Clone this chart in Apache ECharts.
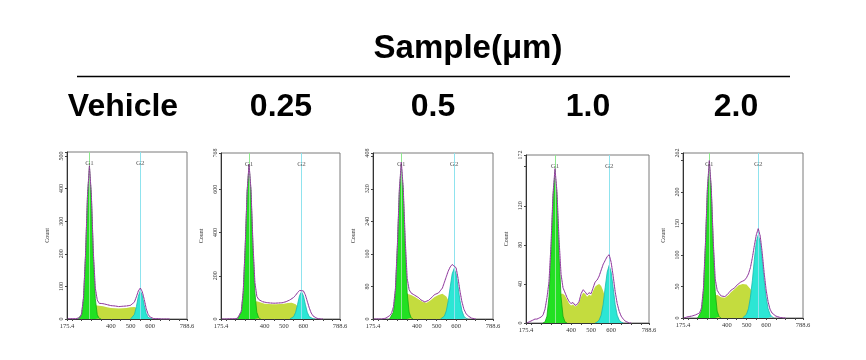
<!DOCTYPE html>
<html>
<head>
<meta charset="utf-8">
<script src="https://cdn.jsdelivr.net/npm/echarts@6/dist/echarts.min.js"></script>
<style>
html,body{margin:0;padding:0;background:#fff;}
#chart{width:866px;height:360px;}
</style>
</head>
<body>
<div id="chart"></div>
<script>
// ---------------- DATA ----------------
const headerTitle = 'Sample(μm)';
const categories = ['Vehicle', '0.25', '0.5', '1.0', '2.0'];
const yMax = [512, 768, 408, 172, 262];
const yLabels = [
  [0, 100, 200, 300, 400, 500],
  [0, 200, 400, 600, 768],
  [0, 80, 160, 240, 320, 408],
  [0, 40, 80, 120, 172],
  [0, 50, 100, 150, 200, 262]
];
const yInterval = [100, 200, 80, 40, 50];
const xMin = 175.4, xMax = 788.6;
const xLabelValues = [175.4, 400, 500, 600, 788.6];
const xTickValues = [175.4, 200, 250, 300, 350, 400, 450, 500, 550, 600, 650, 700, 750, 788.6];
const g1Pos = [290, 320, 320, 320, 310];
const g2Pos = [550, 590, 590, 590, 560];
const STEP = 10;

// Vehicle
const vehG1Start = 230;
const vehG1 = [0, 2, 13, 63, 192, 373, 466, 373, 192, 63, 13, 2, 0];
const vehSStart = 290;
const vehS = [0, 18, 34, 42, 43, 41, 40, 39, 37, 36, 35, 34, 33, 33, 32, 32, 32, 33, 33, 34, 34, 36, 37, 37, 35, 32, 27, 20, 11, 4, 0];
const vehG2Start = 500;
const vehG2 = [0, 4, 14, 38, 70, 87, 72, 42, 17, 5, 1, 0];
const vehObsStart = 180;
const vehObs = [1, 0, 1, 0, 1, 2, 4, 16, 68, 196, 378, 470, 380, 205, 95, 58, 48, 44, 47, 42, 44, 40, 41, 38, 40, 36, 38, 35, 39, 37, 40, 38, 42, 44, 52, 68, 86, 95, 84, 60, 32, 14, 6, 3, 1, 0, 1, 0, 0, 1, 0, 0, 0];

// 0.25
const p025G1Start = 260;
const p025G1 = [0, 5, 31, 122, 326, 585, 711, 585, 326, 122, 31, 5, 0];
const p025SStart = 310;
const p025S = [0, 24, 56, 78, 84, 82, 79, 76, 73, 71, 70, 69, 68, 68, 68, 68, 68, 69, 70, 71, 72, 74, 75, 75, 73, 68, 58, 47, 35, 23, 12, 5, 0];
const p025G2Start = 530;
const p025G2 = [0, 3, 11, 31, 68, 108, 126, 108, 68, 31, 11, 3, 1, 0];
const p025ObsStart = 180;
const p025Obs = [0, 1, 0, 0, 1, 0, 1, 0, 3, 8, 36, 128, 332, 592, 716, 598, 350, 170, 105, 90, 84, 80, 82, 76, 78, 74, 77, 73, 76, 74, 78, 75, 79, 80, 84, 88, 94, 100, 110, 122, 132, 136, 130, 112, 82, 52, 28, 14, 6, 3, 1, 0, 0];

// 0.5
const p05G1Start = 260;
const p05G1 = [0, 3, 17, 65, 174, 310, 378, 310, 174, 65, 17, 3, 0];
const p05SStart = 310;
const p05S = [0, 18, 40, 56, 62, 61, 59, 56, 54, 51, 48, 45, 42, 40, 40, 42, 46, 50, 54, 57, 59, 61, 62, 60, 55, 46, 35, 23, 12, 5, 0];
const p05G2Start = 520;
const p05G2 = [0, 2, 7, 20, 45, 79, 111, 124, 111, 79, 45, 20, 7, 2, 0];
const p05ObsStart = 180;
const p05Obs = [0, 1, 0, 1, 0, 1, 2, 4, 8, 14, 30, 75, 182, 318, 385, 322, 196, 100, 72, 64, 60, 58, 55, 52, 47, 45, 42, 43, 46, 50, 55, 60, 62, 64, 68, 76, 90, 104, 118, 128, 134, 137, 126, 100, 68, 42, 24, 14, 8, 4, 2, 1, 0];

// 1.0
const p10G1Start = 260;
const p10G1 = [0, 1, 7, 27, 71, 127, 155, 127, 71, 27, 7, 1, 0];
const p10SStart = 310;
const p10S = [0, 8, 20, 28, 30, 30, 28, 24, 20, 18, 19, 17, 18, 21, 27, 31, 30, 27, 29, 28, 33, 37, 39, 40, 38, 33, 26, 18, 11, 5, 2, 0];
const p10G2Start = 520;
const p10G2 = [0, 1, 3, 8, 19, 36, 52, 59, 52, 36, 19, 8, 3, 1, 0];
const p10ObsStart = 180;
const p10Obs = [0, 1, 2, 3, 4, 4, 5, 6, 8, 14, 26, 42, 80, 132, 158, 134, 86, 50, 36, 31, 26, 22, 20, 21, 18, 19, 22, 30, 34, 32, 29, 31, 30, 36, 42, 44, 48, 54, 60, 64, 68, 70, 62, 48, 32, 20, 12, 7, 4, 2, 1, 0, 0];

// 2.0
const p20G1Start = 250;
const p20G1 = [0, 2, 11, 42, 113, 201, 245, 201, 113, 42, 11, 2, 0];
const p20SStart = 300;
const p20S = [0, 12, 26, 34, 37, 37, 36, 33, 35, 32, 34, 37, 41, 43, 46, 49, 52, 53, 54, 54, 53, 50, 46, 41, 35, 28, 20, 13, 7, 3, 0];
const p20G2Start = 480;
const p20G2 = [0, 2, 6, 15, 33, 60, 93, 121, 132, 121, 93, 60, 33, 15, 6, 2, 0];
const p20ObsStart = 180;
const p20Obs = [0, 1, 2, 3, 3, 4, 5, 6, 8, 16, 48, 118, 206, 250, 206, 122, 62, 44, 39, 35, 38, 34, 36, 40, 44, 45, 48, 52, 55, 57, 58, 60, 64, 70, 80, 96, 115, 132, 142, 130, 104, 72, 45, 26, 14, 8, 5, 3, 2, 1, 0, 0, 0];

const g1Sets = [[vehG1Start, vehG1], [p025G1Start, p025G1], [p05G1Start, p05G1], [p10G1Start, p10G1], [p20G1Start, p20G1]];
const sSets = [[vehSStart, vehS], [p025SStart, p025S], [p05SStart, p05S], [p10SStart, p10S], [p20SStart, p20S]];
const g2Sets = [[vehG2Start, vehG2], [p025G2Start, p025G2], [p05G2Start, p05G2], [p10G2Start, p10G2], [p20G2Start, p20G2]];
const obsSets = [[vehObsStart, vehObs], [p025ObsStart, p025Obs], [p05ObsStart, p05Obs], [p10ObsStart, p10Obs], [p20ObsStart, p20Obs]];

// ---------------- LAYOUT / STYLE ----------------
const gridBoxes = [
  {left: 67, top: 152, width: 120, height: 167},
  {left: 221, top: 153, width: 119, height: 166},
  {left: 373, top: 153, width: 120, height: 166},
  {left: 526, top: 155, width: 123, height: 168},
  {left: 683, top: 153, width: 120, height: 165}
];
const labelCenters = [123, 281, 433, 588, 736];
const C_S = '#c4dc3e', C_G1 = '#22e022', C_G2 = '#2ce6d4', C_FIT = '#b455c8';
const FONT_BIG = 'bold 32px "Liberation Sans", Arial, sans-serif';
const FONT_TITLE = 'bold 33px "Liberation Sans", Arial, sans-serif';

function pairs(set) {
  const start = set[0], vals = set[1];
  return vals.map((v, k) => [start + k * STEP, v]);
}

const grids = [], xAxes = [], yAxes = [], series = [];
for (let i = 0; i < 5; i++) {
  grids.push(Object.assign({show: true, borderColor: '#7a7a7a', borderWidth: 1, backgroundColor: 'transparent'}, gridBoxes[i]));
  xAxes.push({
    gridIndex: i, type: 'value', min: xMin, max: xMax,
    axisLine: {show: true, onZero: false, lineStyle: {color: '#333', width: 1}},
    axisTick: {show: true, length: 2, customValues: xTickValues, lineStyle: {color: '#444'}},
    axisLabel: {customValues: xLabelValues, fontSize: 6.5, margin: 4, color: '#333', fontFamily: 'Liberation Serif',
      formatter: v => v.toFixed(v % 1 ? 1 : 0)},
    splitLine: {show: false}
  });
  yAxes.push({
    gridIndex: i, type: 'value', min: 0, max: yMax[i], interval: yInterval[i],
    name: 'Count', nameLocation: 'middle', nameGap: 17, nameRotate: 90,
    nameTextStyle: {fontSize: 6, color: '#333', fontFamily: 'Liberation Serif'},
    axisLine: {show: true, lineStyle: {color: '#333', width: 1}},
    axisTick: {show: true, length: 2, lineStyle: {color: '#444'}},
    axisLabel: {customValues: yLabels[i], rotate: 90, fontSize: 6, margin: 3, color: '#333', fontFamily: 'Liberation Serif'},
    splitLine: {show: false}
  });
  const base = {xAxisIndex: i, yAxisIndex: i, type: 'line', symbol: 'none', silent: true, animation: false};
  series.push(Object.assign({}, base, {
    name: 'S', data: pairs(sSets[i]), z: 2,
    lineStyle: {width: 0}, areaStyle: {color: C_S, opacity: 1}
  }));
  series.push(Object.assign({}, base, {
    name: 'G1', data: pairs(g1Sets[i]), z: 3,
    lineStyle: {width: 0.8, color: '#14a814'}, areaStyle: {color: C_G1, opacity: 1}
  }));
  series.push(Object.assign({}, base, {
    name: 'G2', data: pairs(g2Sets[i]), z: 3,
    lineStyle: {width: 0.8, color: '#19b8ae'}, areaStyle: {color: C_G2, opacity: 1}
  }));
  series.push(Object.assign({}, base, {
    name: 'fit', data: pairs(obsSets[i]), z: 5,
    lineStyle: {width: 1, color: C_FIT},
    markLine: {
      silent: true, symbol: 'none', animation: false,
      label: {show: false},
      data: [
        {xAxis: g1Pos[i], lineStyle: {color: '#8ee88e', width: 1, type: 'solid'}},
        {xAxis: g2Pos[i], lineStyle: {color: '#8fe3ee', width: 1, type: 'solid'}}
      ]
    }
  }));
  series.push(Object.assign({}, base, {
    name: 'data', data: pairs(obsSets[i]), z: 6,
    lineStyle: {width: 0.8, color: '#3a2a2a', type: 'dotted', opacity: 0.55}
  }));
  series.push({
    type: 'scatter', xAxisIndex: i, yAxisIndex: i, symbolSize: 0, silent: true, animation: false, z: 7,
    data: [[g1Pos[i], yMax[i] * 0.935, 'G1'], [g2Pos[i], yMax[i] * 0.935, 'G2']],
    label: {show: true, position: 'inside', formatter: p => p.data[2], fontSize: 7, color: '#333', fontFamily: 'Liberation Serif'}
  });
}

const graphics = [
  {type: 'text', x: 468, y: 49, silent: true,
   style: {text: headerTitle, font: FONT_TITLE, fill: '#000', textAlign: 'center', textVerticalAlign: 'middle'}},
  {type: 'line', silent: true, shape: {x1: 77, y1: 76.5, x2: 790, y2: 76.5}, style: {stroke: '#000', lineWidth: 1.5}}
];
categories.forEach((c, i) => {
  graphics.push({type: 'text', x: labelCenters[i], y: 107, silent: true,
    style: {text: c, font: FONT_BIG, fill: '#000', textAlign: 'center', textVerticalAlign: 'middle'}});
});

const chart = echarts.init(document.getElementById('chart'), null, {renderer: 'canvas'});
chart.setOption({
  animation: false,
  backgroundColor: '#fff',
  grid: grids, xAxis: xAxes, yAxis: yAxes, series: series,
  graphic: graphics
});
</script>
</body>
</html>
